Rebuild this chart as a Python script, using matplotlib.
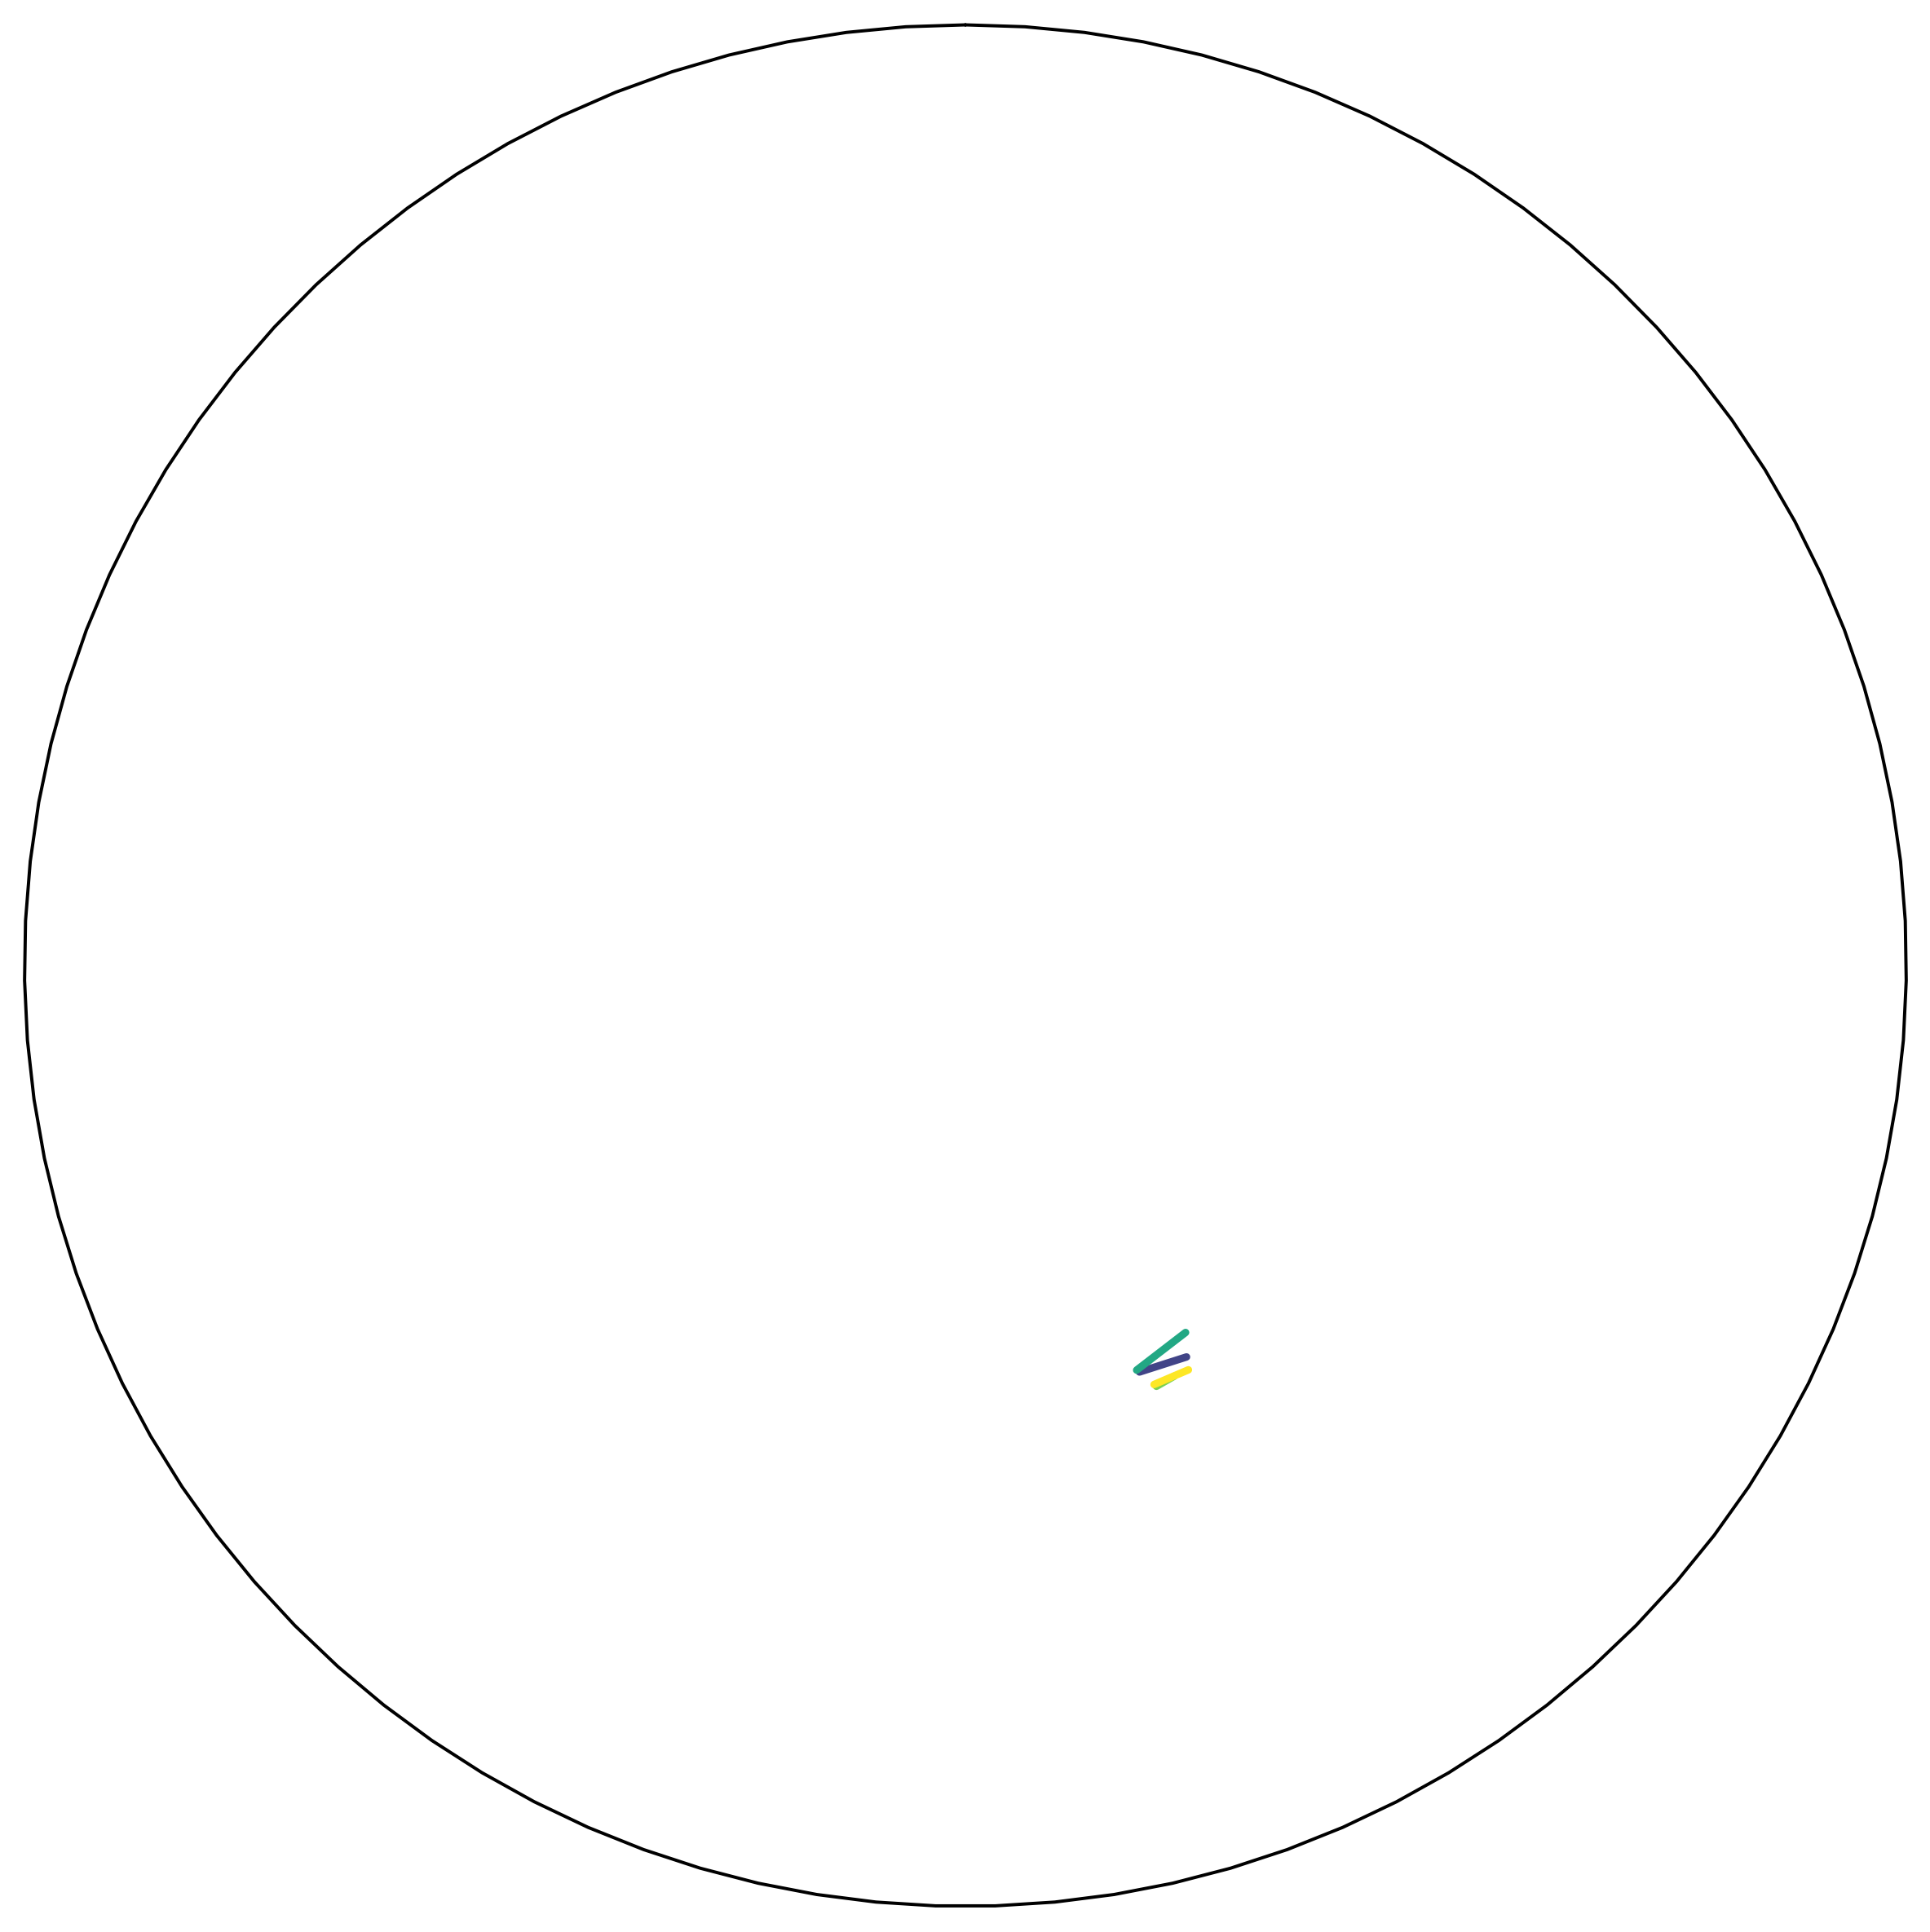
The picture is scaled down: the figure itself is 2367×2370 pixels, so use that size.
import numpy as np
import matplotlib
matplotlib.use("Agg")
import matplotlib.pyplot as plt

# Unit circle boundary (100 points)
n_circle = 100

# Trajectory series (x, y) in unit-disk coordinates
series_colors = [0.2, 0.6, 0.8, 1.0]   # positions in viridis
s1_x = [0.185, 0.235]
s1_y = [-0.432, -0.416]
s2_x = [0.182, 0.234]
s2_y = [-0.430, -0.390]
s3_x = [0.203, 0.222]
s3_y = [-0.4472, -0.4364]
s4_x = [0.2005, 0.237]
s4_y = [-0.4453, -0.4297]

W, H, DPI = 2367, 2370, 300
fig = plt.figure(figsize=(W / DPI, H / DPI), dpi=DPI)
ax = fig.add_axes([0, 0, 1, 1])
ax.axis("off")

t = np.linspace(0, 2 * np.pi, n_circle)
ax.plot(np.sin(t), np.cos(t), color="black", lw=0.95,
        solid_capstyle="round", solid_joinstyle="round")

cmap = plt.get_cmap("viridis")
xs = [s1_x, s2_x, s3_x, s4_x]
ys = [s1_y, s2_y, s3_y, s4_y]
for x, y, c in zip(xs, ys, series_colors):
    ax.plot(x, y, color=cmap(c), lw=2.2, solid_capstyle="round",
            solid_joinstyle="round")

R = 1154.0
cx, cy = 1184.0, 1184.5
ax.set_xlim(-1 - (cx - R) / R, 1 + (W - cx - R) / R)
ax.set_ylim(-1 - (H - cy - R) / R, 1 + (cy - R) / R)

fig.savefig("out.png", dpi=DPI)
